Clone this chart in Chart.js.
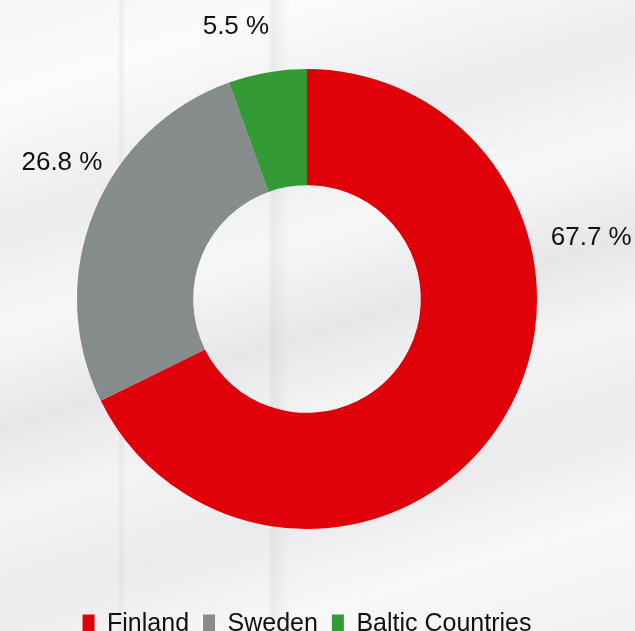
<!DOCTYPE html>
<html>
<head>
<meta charset="utf-8">
<script src="https://cdn.jsdelivr.net/npm/chart.js@4.4.1/dist/chart.umd.min.js"></script>
<style>
  html, body {
    margin: 0;
    padding: 0;
    width: 635px;
    height: 631px;
    overflow: hidden;
  }
  body {
    background:
      linear-gradient(90deg, rgba(0,0,0,0) 0px, rgba(0,0,0,0) 118px, rgba(200,200,204,0.25) 120px, rgba(0,0,0,0) 126px,
        rgba(0,0,0,0) 268px, rgba(205,205,208,0.3) 272px, rgba(0,0,0,0) 290px),
      linear-gradient(163deg, #f5f5f6 0%, #fbfbfb 12%, #ececee 28%, #f7f7f8 40%, #e7e7e9 52%,
        #f4f4f5 62%, #ebebed 74%, #f8f8f9 86%, #f1f1f2 100%);
  }
  #wrap {
    width: 635px;
    height: 647px;
  }
</style>
</head>
<body>
<div id="wrap"><canvas id="myChart" width="635" height="647"></canvas></div>
<script>
const regions = ["Finland", "Sweden", "Baltic Countries"];
const shares = [67.7, 26.8, 5.5];
const sliceColors = ["#E0000A", "#868B8B", "#339A36"];

// where each percentage label sits: degrees clockwise from 12 o'clock, px beyond the ring
const labelAngles = [77.6, 299.3, 345.4];
const labelOffsets = [61, 51, 52];

const outsideLabels = {
    id: "outsideLabels",
    afterDatasetsDraw(chart) {
        const ctx = chart.ctx;
        const meta = chart.getDatasetMeta(0);
        ctx.save();
        ctx.font = "26px 'Liberation Sans', Arial, sans-serif";
        ctx.fillStyle = "#111111";
        ctx.textAlign = "center";
        ctx.textBaseline = "middle";
        meta.data.forEach(function (arc, i) {
            const a = labelAngles[i] * Math.PI / 180;
            const d = arc.outerRadius + labelOffsets[i];
            const x = arc.x + Math.sin(a) * d;
            const y = arc.y - Math.cos(a) * d;
            ctx.fillText(shares[i].toFixed(1) + " %", x, y + 1);
        });
        ctx.restore();
    },
};

document.addEventListener("DOMContentLoaded", function () {
    const ctx = document.getElementById("myChart");

    new Chart(ctx, {
        type: "doughnut",
        data: {
            labels: regions,
            datasets: [
                {
                    label: "Share",
                    data: shares,
                    backgroundColor: sliceColors,
                    borderWidth: 0,
                    radius: 230,
                },
            ],
        },
        options: {
            responsive: false,
            animation: false,
            cutout: "49.5%",
            layout: {
                padding: { top: 0, right: 21, left: 0, bottom: 0 },
            },
            plugins: {
                legend: {
                    position: "bottom",
                    labels: {
                        boxWidth: 12,
                        boxHeight: 20,
                        padding: 14,
                        color: "#111111",
                        font: { size: 25, family: "'Liberation Sans', Arial, sans-serif" },
                    },
                },
                tooltip: { enabled: false },
            },
        },
        plugins: [outsideLabels],
    });
});
</script>
</body>
</html>
